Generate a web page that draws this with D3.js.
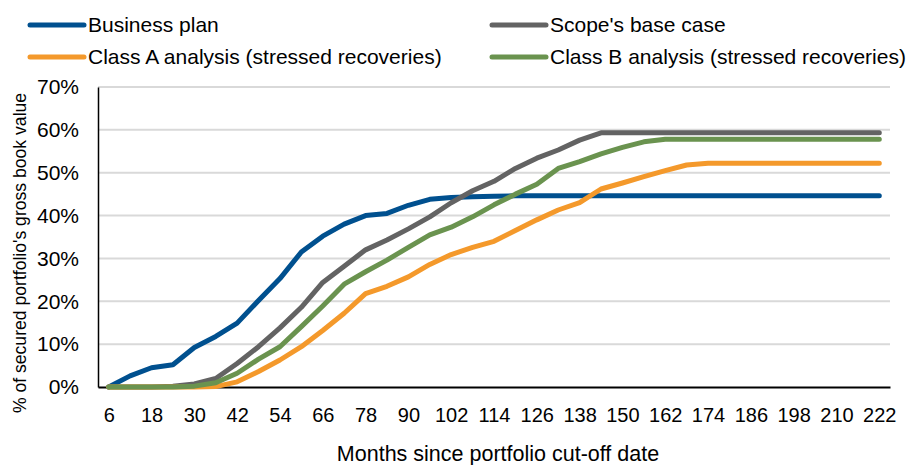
<!DOCTYPE html>
<html>
<head>
<meta charset="utf-8">
<script src="https://cdn.jsdelivr.net/npm/d3@7"></script>
<style>
  html, body { margin: 0; padding: 0; background: #fff; }
  svg { display: block; font-family: "Liberation Sans", Arial, sans-serif; }
</style>
</head>
<body>
<svg id="chart" width="914" height="465"></svg>
<script>
const months = [6, 12, 18, 24, 30, 36, 42, 48, 54, 60, 66, 72, 78, 84, 90, 96, 102, 108, 114, 120,
  126, 132, 138, 144, 150, 156, 162, 168, 174, 180, 186, 192, 198, 204, 210, 216, 222];

const tickLabels = [6, 18, 30, 42, 54, 66, 78, 90, 102, 114, 126, 138, 150, 162, 174, 186, 198, 210, 222];
const yTicks = [0, 10, 20, 30, 40, 50, 60, 70];

const businessPlan = [0, 2.6, 4.5, 5.2, 9.2, 11.8, 14.9, 20.2, 25.3, 31.5, 35.2, 38.0, 40.0, 40.5, 42.4, 43.8, 44.2, 44.4, 44.5, 44.6,
  44.6, 44.6, 44.6, 44.6, 44.6, 44.6, 44.6, 44.6, 44.6, 44.6, 44.6, 44.6, 44.6, 44.6, 44.6, 44.6, 44.6];

const scopeBase = [0, 0, 0, 0.2, 0.7, 2.0, 5.5, 9.4, 13.8, 18.6, 24.4, 28.2, 32.0, 34.3, 36.9, 39.7, 43.0, 45.8, 48.0, 51.0,
  53.4, 55.3, 57.6, 59.3, 59.3, 59.3, 59.3, 59.3, 59.3, 59.3, 59.3, 59.3, 59.3, 59.3, 59.3, 59.3, 59.3];

const classA = [0, 0, 0, 0, 0, 0.1, 1.2, 3.6, 6.3, 9.4, 13.2, 17.2, 21.8, 23.5, 25.7, 28.6, 30.9, 32.6, 34.0, 36.5,
  39.0, 41.3, 43.0, 46.2, 47.6, 49.1, 50.5, 51.8, 52.2, 52.2, 52.2, 52.2, 52.2, 52.2, 52.2, 52.2, 52.2];

const classB = [0, 0, 0, 0, 0.2, 1.0, 3.2, 6.5, 9.4, 14.1, 18.9, 24.0, 26.9, 29.6, 32.6, 35.5, 37.3, 39.7, 42.5, 45.0,
  47.3, 51.0, 52.6, 54.4, 55.9, 57.2, 57.8, 57.8, 57.8, 57.8, 57.8, 57.8, 57.8, 57.8, 57.8, 57.8, 57.8];

const seriesNames = ["Business plan", "Scope's base case", "Class A analysis (stressed recoveries)", "Class B analysis (stressed recoveries)"];
const seriesColors = ["#00508f", "#636363", "#f4992b", "#6a934f"];
const seriesValues = [businessPlan, scopeBase, classA, classB];

const svg = d3.select("#chart");
const plotLeft = 98, plotRight = 890, plotTop = 87, plotBottom = 387;

const x = d3.scalePoint().domain(months).range([plotLeft, plotRight]).padding(0.5);
const y = d3.scaleLinear().domain([0, 70]).range([plotBottom, plotTop]);

// gridlines
svg.append("g")
  .selectAll("line")
  .data(yTicks.filter(d => d > 0))
  .join("line")
  .attr("x1", plotLeft).attr("x2", plotRight)
  .attr("y1", d => y(d)).attr("y2", d => y(d))
  .attr("stroke", "#d9d9d9").attr("stroke-width", 2);

// y axis
const yAxis = svg.append("g")
  .attr("transform", `translate(${plotLeft},0)`)
  .call(d3.axisLeft(y).tickValues(yTicks).tickSize(0).tickPadding(19).tickFormat(d => d + "%"));
yAxis.select(".domain").attr("stroke", "#000").attr("stroke-width", 1.5);
yAxis.selectAll("text").attr("font-size", 21).attr("fill", "#000")
  .attr("font-family", "'Liberation Sans', Arial, sans-serif");

// x axis
const xAxis = svg.append("g")
  .attr("transform", `translate(0,${plotBottom})`)
  .call(d3.axisBottom(x).tickValues(tickLabels).tickSize(0).tickPadding(21));
xAxis.select(".domain").attr("stroke", "#000").attr("stroke-width", 2);
xAxis.selectAll("text").attr("font-size", 20).attr("fill", "#000")
  .attr("font-family", "'Liberation Sans', Arial, sans-serif");

// lines
const line = d3.line().x((d, i) => x(months[i])).y(d => y(d));
svg.append("g")
  .selectAll("path")
  .data(seriesValues)
  .join("path")
  .attr("d", d => line(d))
  .attr("fill", "none")
  .attr("stroke", (d, i) => seriesColors[i])
  .attr("stroke-width", 5)
  .attr("stroke-linejoin", "round")
  .attr("stroke-linecap", "round");

// axis titles
svg.append("text")
  .attr("x", 498).attr("y", 461)
  .attr("text-anchor", "middle")
  .attr("font-size", 21.5).attr("fill", "#000")
  .text("Months since portfolio cut-off date");

svg.append("text")
  .attr("transform", "translate(26,253) rotate(-90)")
  .attr("text-anchor", "middle")
  .attr("font-size", 17.6).attr("fill", "#000")
  .text("% of secured portfolio's gross book value");

// legend
const legendPos = [[28, 25], [490, 25], [28, 57], [490, 57]];
const lg = svg.append("g").selectAll("g")
  .data(seriesNames)
  .join("g")
  .attr("transform", (d, i) => `translate(${legendPos[i][0]},${legendPos[i][1]})`);
lg.append("line")
  .attr("x1", 2).attr("x2", 56).attr("y1", 0).attr("y2", 0)
  .attr("stroke", (d, i) => seriesColors[i])
  .attr("stroke-width", 5).attr("stroke-linecap", "round");
lg.append("text")
  .attr("x", 60).attr("y", 0).attr("dy", "0.35em")
  .attr("font-size", 21).attr("fill", "#000")
  .text(d => d);
</script>
</body>
</html>
